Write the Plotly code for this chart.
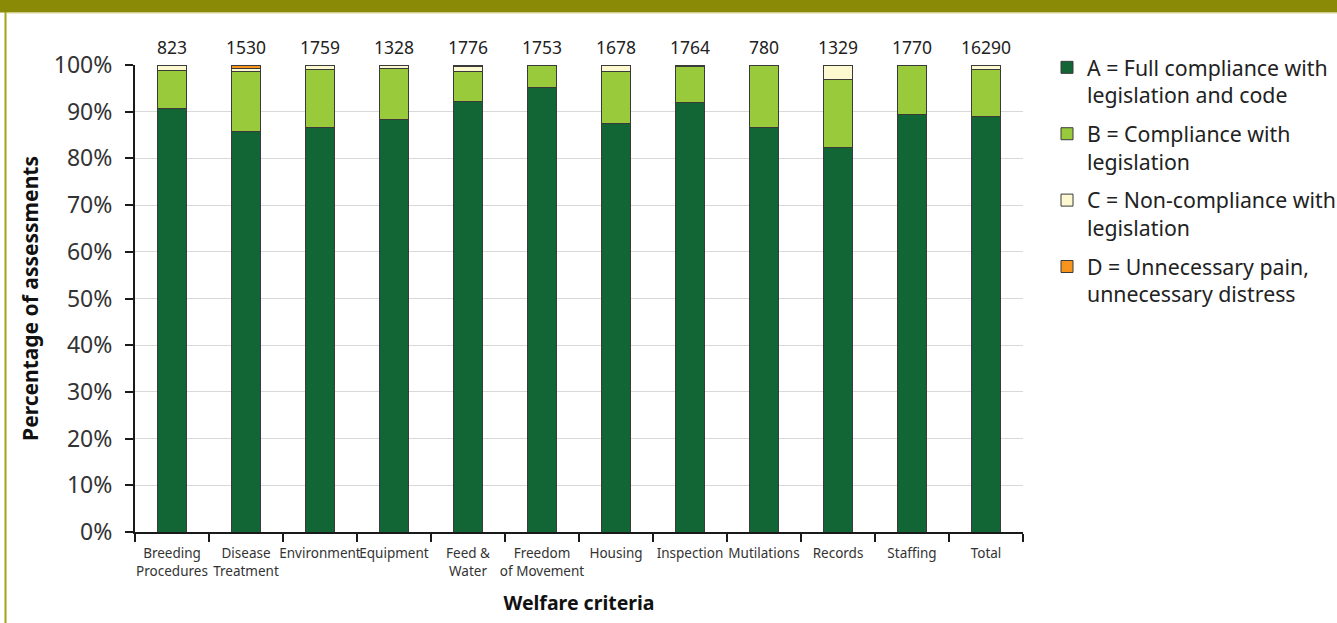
import plotly.graph_objects as go

categories = ["Breeding<br>Procedures", "Disease<br>Treatment", "Environment", "Equipment",
              "Feed &<br>Water", "Freedom<br>of Movement", "Housing", "Inspection",
              "Mutilations", "Records", "Staffing", "Total"]
totals = [823, 1530, 1759, 1328, 1776, 1753, 1678, 1764, 780, 1329, 1770, 16290]

a_full = [90.7, 85.7, 86.6, 88.3, 92.2, 95.2, 87.4, 91.9, 86.6, 82.3, 89.3, 89.0]
b_legis = [8.2, 12.9, 12.5, 11.0, 6.4, 4.8, 11.3, 7.7, 13.2, 14.7, 10.5, 10.1]
c_non = [1.1, 0.7, 0.9, 0.6, 1.0, 0.0, 1.3, 0.1, 0.2, 3.0, 0.2, 0.8]
d_pain = [0.0, 0.7, 0.0, 0.1, 0.4, 0.0, 0.0, 0.3, 0.0, 0.0, 0.0, 0.1]

series_names = ["A = Full compliance with<br>legislation and code",
                "B = Compliance with<br>legislation",
                "C = Non-compliance with<br>legislation",
                "D = Unnecessary pain,<br>unnecessary distress"]
series_colors = ["#126535", "#99ca3c", "#fcf8cf", "#f7941d"]
series_values = [a_full, b_legis, c_non, d_pain]

FONT = "Noto Sans"
OLIVE = "#8a8a06"

fig = go.Figure()
for i, (name, color, vals) in enumerate(zip(series_names, series_colors, series_values)):
    fig.add_trace(go.Bar(
        x=categories, y=vals, name=name, width=0.4,
        marker=dict(color=color, line=dict(color="#3a3a3a", width=1)),
        legendgroup=f"g{i}",
    ))

for cat, tot in zip(categories, totals):
    fig.add_annotation(x=cat, y=100, text=str(tot), showarrow=False,
                       yanchor="bottom", yshift=4,
                       font=dict(family=FONT, size=17.5, color="#222222"))

L, R, T, B = 135, 314, 65, 91
W, H = 1337, 623
pw, ph = W - L - R, H - T - B

def px_x(p):
    return (p - L) / pw

def px_y(p):
    return (H - B - p) / ph

# olive band at top and left border line
fig.add_shape(type="rect", xref="paper", yref="paper",
              x0=px_x(-2), x1=px_x(W + 2), y0=px_y(12.5), y1=px_y(-2),
              fillcolor=OLIVE, line=dict(width=0), layer="below")
fig.add_shape(type="line", xref="paper", yref="paper",
              x0=px_x(7), x1=px_x(W + 2), y0=px_y(13), y1=px_y(13),
              line=dict(color="#d4d49a", width=1), layer="below")
fig.add_shape(type="line", xref="paper", yref="paper",
              x0=px_x(5.5), x1=px_x(5.5), y0=px_y(12), y1=px_y(H + 2),
              line=dict(color="#a3a31a", width=2), layer="below")

fig.update_layout(
    width=W, height=H,
    margin=dict(l=L, r=R, t=T, b=B, autoexpand=False),
    barmode="stack",
    plot_bgcolor="white", paper_bgcolor="white",
    font=dict(family=FONT, color="#222222"),
    showlegend=True,
    legend=dict(x=px_x(1047), y=px_y(47), xanchor="left", yanchor="top",
                font=dict(family=FONT, size=21.3, color="#222222"),
                tracegroupgap=8, traceorder="grouped", valign="top",
                bgcolor="rgba(0,0,0,0)"),
    xaxis=dict(
        type="category",
        showline=True, linecolor="#1a1a1a", linewidth=2,
        ticks="outside", ticklen=8, tickwidth=1.5, tickcolor="#1a1a1a",
        tickson="boundaries", tickangle=0, ticklabelstandoff=8,
        tickfont=dict(family=FONT, size=13.5, color="#333333"),
        title=dict(text="<b>Welfare criteria</b>", standoff=18,
                   font=dict(family=FONT, size=19.5, color="#111111")),
        showgrid=False,
    ),
    yaxis=dict(
        range=[0, 100], dtick=10, ticksuffix="%",
        showline=True, linecolor="#1a1a1a", linewidth=2,
        ticks="outside", ticklen=8, tickwidth=1.5, tickcolor="#1a1a1a",
        ticklabelstandoff=8,
        tickfont=dict(family=FONT, size=23, color="#333333"),
        showgrid=True, gridcolor="#d9d9d9", gridwidth=1,
        zeroline=False,
        title=dict(text="<b>Percentage of assessments</b>", standoff=9,
                   font=dict(family=FONT, size=21, color="#111111")),
    ),
)

fig.write_html("out.html", config={"displayModeBar": False},
               post_script="document.body.style.margin='0px';document.body.style.overflow='hidden';")
